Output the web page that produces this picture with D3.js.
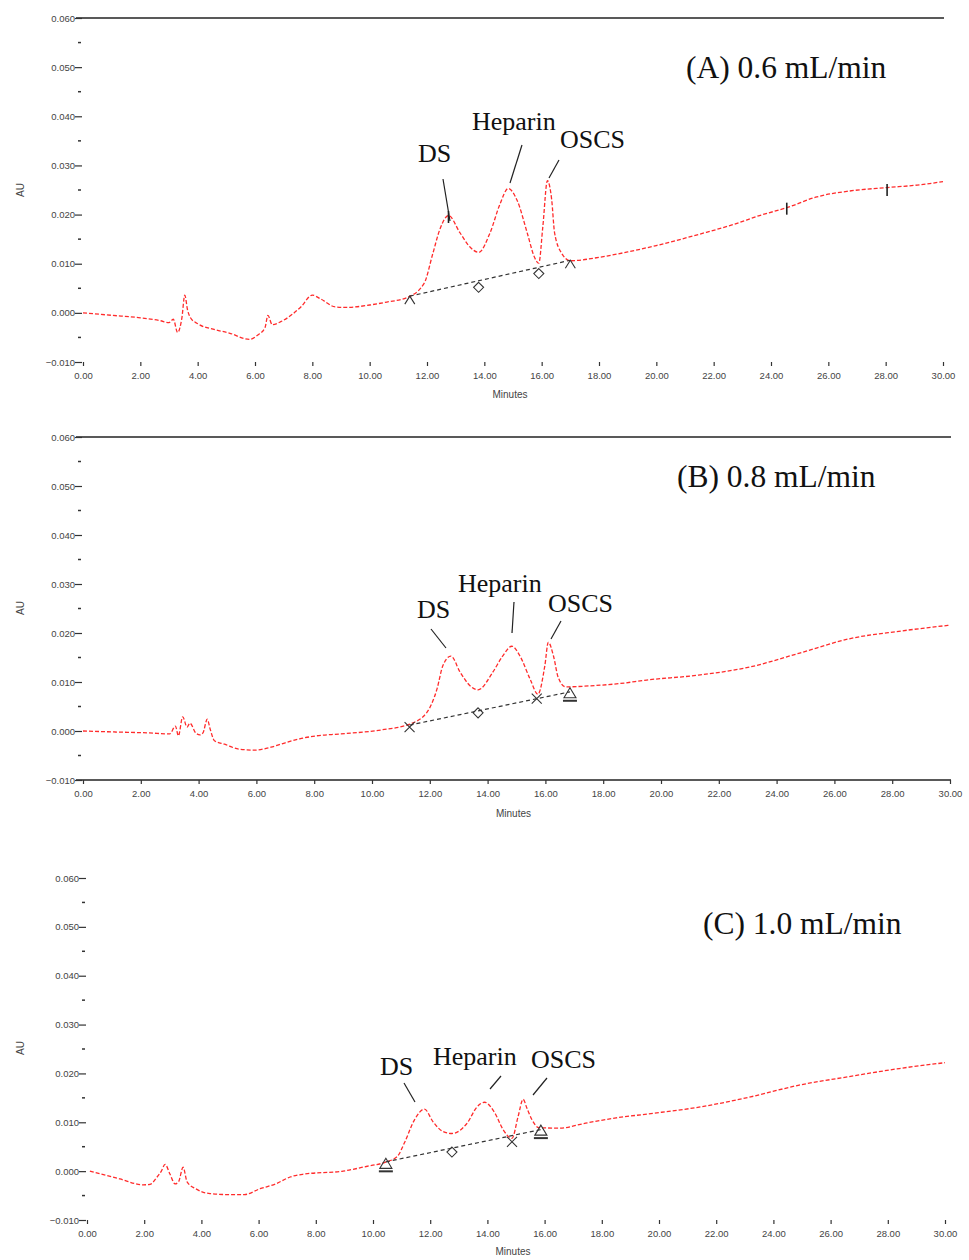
<!DOCTYPE html>
<html>
<head>
<meta charset="utf-8">
<script src="https://cdn.jsdelivr.net/npm/d3@7"></script>
<style>
  html, body { margin: 0; padding: 0; background: #fff; }
  svg { display: block; }
  .tick-label { font-family: "Liberation Sans", Arial, sans-serif; font-size: 9.5px; fill: #444; }
  .axis-title { font-family: "Liberation Sans", Arial, sans-serif; font-size: 10px; fill: #444; }
  .serif { font-family: "Liberation Serif", "Times New Roman", serif; fill: #111; }
</style>
</head>
<body>
<svg id="chart" width="969" height="1260"></svg>
<script>
// ---- Chromatogram traces (retention time in minutes, absorbance in AU) ----
const timeA = [0, 1.0, 2.0, 2.7, 3.0, 3.15, 3.3, 3.45, 3.55, 3.65, 3.75, 4.0, 4.6, 5.1, 5.8, 6.1, 6.35, 6.45, 6.6, 6.9, 7.3, 7.6, 8.0, 8.3, 8.8, 9.2, 10.0, 10.6, 11.3, 11.9, 12.2, 12.45, 12.75, 13.15, 13.5, 13.8, 14.2, 14.55, 14.83, 15.15, 15.5, 15.75, 15.9, 16.04, 16.2, 16.35, 16.45, 16.7, 17.0, 18.0, 19.0, 20.0, 21.5, 22.7, 23.6, 24.55, 25.6, 26.75, 28.05, 29.1, 30.0];
const auA = [0.0000, -0.0005, -0.0010, -0.0016, -0.0020, -0.0013, -0.0040, -0.0010, 0.0036, 0.0005, -0.0010, -0.0022, -0.0034, -0.0041, -0.0054, -0.0045, -0.0030, -0.0005, -0.0024, -0.0018, -0.0003, 0.0012, 0.0036, 0.0028, 0.0012, 0.0011, 0.0016, 0.0022, 0.0031, 0.0060, 0.0120, 0.0170, 0.0198, 0.0163, 0.0134, 0.0123, 0.0163, 0.0222, 0.0253, 0.0228, 0.0162, 0.0113, 0.0101, 0.0175, 0.0269, 0.0230, 0.0163, 0.0121, 0.0106, 0.0113, 0.0124, 0.0137, 0.0160, 0.0180, 0.0198, 0.0214, 0.0236, 0.0248, 0.0255, 0.0260, 0.0267];

const timeB = [0, 1.1, 2.3, 3.0, 3.2, 3.3, 3.45, 3.6, 3.7, 3.9, 4.05, 4.15, 4.3, 4.4, 4.55, 4.9, 5.4, 5.95, 6.5, 7.0, 7.5, 8.06, 8.9, 10.3, 11.3, 11.9, 12.25, 12.45, 12.73, 13.05, 13.4, 13.67, 14.18, 14.52, 14.84, 15.12, 15.47, 15.74, 15.98, 16.1, 16.28, 16.44, 16.7, 17.5, 18.6, 19.5, 21.3, 23.1, 24.8, 26.5, 28.3, 30.0];
const auB = [0.0000, -0.0002, -0.0004, -0.0006, 0.0010, -0.0010, 0.0029, 0.0008, 0.0016, -0.0004, -0.0008, -0.0004, 0.0024, 0.0004, -0.0020, -0.0027, -0.0037, -0.0039, -0.0033, -0.0024, -0.0016, -0.0010, -0.0006, 0.0002, 0.0014, 0.0038, 0.0086, 0.0133, 0.0153, 0.0120, 0.0092, 0.0084, 0.0120, 0.0153, 0.0173, 0.0153, 0.0106, 0.0075, 0.0133, 0.0181, 0.0153, 0.0110, 0.0090, 0.0092, 0.0097, 0.0104, 0.0114, 0.0131, 0.0159, 0.0188, 0.0204, 0.0216];

const timeC = [0.1, 1.15, 1.96, 2.2, 2.45, 2.6, 2.73, 2.9, 3.08, 3.2, 3.36, 3.5, 3.8, 4.3, 5.0, 5.5, 6.05, 6.6, 7.1, 7.6, 8.95, 9.8, 10.42, 10.85, 11.1, 11.45, 11.8, 12.1, 12.45, 12.76, 13.3, 13.63, 13.9, 14.26, 14.55, 14.86, 15.07, 15.25, 15.38, 15.56, 15.8, 16.5, 17.5, 18.5, 19.6, 21.4, 23.2, 24.9, 26.7, 28.4, 30.0];
const auC = [0.0000, -0.0016, -0.0028, -0.0027, -0.0012, 0.0000, 0.0014, -0.0006, -0.0026, -0.0022, 0.0008, -0.0022, -0.0036, -0.0046, -0.0048, -0.0048, -0.0036, -0.0026, -0.0012, -0.0006, 0.0000, 0.0010, 0.0018, 0.0030, 0.0058, 0.0105, 0.0127, 0.0101, 0.0081, 0.0077, 0.0099, 0.0131, 0.0141, 0.0119, 0.0085, 0.0067, 0.0111, 0.0147, 0.0129, 0.0105, 0.0089, 0.0088, 0.0099, 0.0109, 0.0117, 0.0131, 0.0152, 0.0176, 0.0194, 0.0210, 0.0222];

// ---- Integration baselines and peak-boundary markers ----
const baseTimeA = [11.4, 17.0];
const baseAuA = [0.0034, 0.0107];
const markTimeA = [11.4, 13.8, 15.9, 17.0];
const markAuA = [0.0030, 0.0052, 0.0080, 0.0103];
const markShapeA = ["caret", "diamond", "diamond", "caret"];

const baseTimeB = [11.3, 16.85];
const baseAuB = [0.0012, 0.0080];
const markTimeB = [11.3, 13.67, 15.7, 16.85];
const markAuB = [0.0008, 0.0037, 0.0066, 0.0078];
const markShapeB = ["cross", "diamond", "cross", "triangle"];

const baseTimeC = [10.45, 15.87];
const baseAuC = [0.0019, 0.0085];
const markTimeC = [10.45, 12.76, 14.86, 15.87];
const markAuC = [0.0016, 0.0039, 0.0060, 0.0084];
const markShapeC = ["triangle", "diamond", "cross", "triangle"];

// Event ticks on trace A
const eventTimeA = [12.75, 24.55, 28.05];
const eventAuA = [0.0195, 0.0212, 0.0250];

// ---- Axis ticks ----
const yTickValues = [-0.010, 0.000, 0.010, 0.020, 0.030, 0.040, 0.050, 0.060];
const yMinorValues = [-0.005, 0.005, 0.015, 0.025, 0.035, 0.045, 0.055];
const xTickValues = [0, 2, 4, 6, 8, 10, 12, 14, 16, 18, 20, 22, 24, 26, 28, 30];

// ---- Labels ----
const panelTitles = ["(A) 0.6 mL/min", "(B) 0.8 mL/min", "(C) 1.0 mL/min"];
const peakNames = ["DS", "Heparin", "OSCS"];

const svg = d3.select("#chart");

const layouts = [
  { t: timeA, v: auA, bt: baseTimeA, bv: baseAuA, mt: markTimeA, mv: markAuA, ms: markShapeA,
    x0: 83, x1: 943, yTop: 18, yBot: 362, topLine: true, bottomLine: false,
    title: [686, 78], auLabel: 190, minutesY: 398,
    peaks: [[418, 162], [472, 130], [560, 148]],
    leaders: [[443, 179, 450, 221], [522, 145, 510, 183], [559, 160, 549, 178]] },
  { t: timeB, v: auB, bt: baseTimeB, bv: baseAuB, mt: markTimeB, mv: markAuB, ms: markShapeB,
    x0: 83, x1: 950, yTop: 437, yBot: 780, topLine: true, bottomLine: true,
    title: [677, 487], auLabel: 608, minutesY: 817,
    peaks: [[417, 618], [458, 592], [548, 612]],
    leaders: [[431, 629, 446, 648], [514, 602, 512, 633], [561, 621, 551, 639]] },
  { t: timeC, v: auC, bt: baseTimeC, bv: baseAuC, mt: markTimeC, mv: markAuC, ms: markShapeC,
    x0: 87, x1: 945, yTop: 878, yBot: 1220, topLine: false, bottomLine: false,
    title: [703, 934], auLabel: 1048, minutesY: 1255,
    peaks: [[380, 1075], [433, 1065], [531, 1068]],
    leaders: [[404, 1083, 415, 1102], [501, 1076, 490, 1089], [547, 1078, 533, 1095]] }
];

layouts.forEach((p, i) => {
  const x = d3.scaleLinear().domain([0, 30]).range([p.x0, p.x1]);
  const y = d3.scaleLinear().domain([-0.010, 0.060]).range([p.yBot, p.yTop]);
  const g = svg.append("g");
  const axisX = p.x0 - 1;

  // frame lines
  if (p.topLine) {
    g.append("line").attr("x1", axisX - 6).attr("x2", p.x1 + 1)
      .attr("y1", p.yTop).attr("y2", p.yTop)
      .attr("stroke", "#222").attr("stroke-width", 1.6);
  }
  if (p.bottomLine) {
    g.append("line").attr("x1", axisX - 6).attr("x2", p.x1 + 1)
      .attr("y1", p.yBot).attr("y2", p.yBot)
      .attr("stroke", "#222").attr("stroke-width", 1.4);
  }

  // y axis: major ticks with labels, minor dashes between
  const yAxis = d3.axisLeft(y).tickValues(yTickValues).tickSize(7)
    .tickFormat(d3.format(".3f"));
  const ya = g.append("g").attr("transform", `translate(${axisX},0)`).call(yAxis);
  ya.select(".domain").remove();
  ya.selectAll(".tick line").attr("stroke", "#333").attr("stroke-width", 1.2);
  ya.selectAll(".tick text").attr("class", "tick-label").attr("x", -7)
    .attr("font-family", null).attr("font-size", null);
  g.selectAll(".ymin").data(yMinorValues).enter().append("line")
    .attr("x1", axisX - 4).attr("x2", axisX - 1)
    .attr("y1", d => y(d)).attr("y2", d => y(d))
    .attr("stroke", "#333").attr("stroke-width", 1.5);

  // x axis ticks and labels
  const xAxis = d3.axisBottom(x).tickValues(xTickValues).tickSize(4)
    .tickFormat(d3.format(".2f"));
  const xa = g.append("g").attr("transform", `translate(0,${p.yBot})`).call(xAxis);
  xa.select(".domain").remove();
  xa.selectAll(".tick line").attr("stroke", "#333").attr("stroke-width", 1.2);
  xa.selectAll(".tick text").attr("class", "tick-label").attr("y", 10)
    .attr("font-family", null).attr("font-size", null);

  // axis titles
  g.append("text").attr("class", "axis-title")
    .attr("transform", `translate(24,${p.auLabel}) rotate(-90)`)
    .attr("text-anchor", "middle").text("AU");
  g.append("text").attr("class", "axis-title")
    .attr("x", (p.x0 + p.x1) / 2 - 3).attr("y", p.minutesY)
    .attr("text-anchor", "middle").text("Minutes");

  // chromatogram trace
  const line = d3.line().x(d => x(d[0])).y(d => y(d[1])).curve(d3.curveMonotoneX);
  g.append("path").datum(p.t.map((t, k) => [t, p.v[k]]))
    .attr("d", line).attr("fill", "none")
    .attr("stroke", "#ff2b2b").attr("stroke-width", 1.3)
    .attr("stroke-dasharray", "4,2");

  // integration baseline
  g.append("path").datum(p.bt.map((t, k) => [t, p.bv[k]]))
    .attr("d", d3.line().x(d => x(d[0])).y(d => y(d[1])))
    .attr("fill", "none").attr("stroke", "#333").attr("stroke-width", 1.2)
    .attr("stroke-dasharray", "4,3");

  // peak-boundary markers
  p.mt.forEach((t, k) => {
    const cx = x(t), cy = y(p.mv[k]);
    const s = p.ms[k];
    const m = g.append("g").attr("transform", `translate(${cx},${cy})`)
      .attr("fill", "none").attr("stroke", "#333").attr("stroke-width", 1.1);
    if (s === "caret") {
      m.append("path").attr("d", "M-5,6 L0,-2 L5,6");
    } else if (s === "diamond") {
      m.append("path").attr("d", "M0,-5 L5,0 L0,5 L-5,0 Z");
    } else if (s === "cross") {
      m.append("path").attr("d", "M-5,-5 L5,5 M-5,5 L5,-5");
    } else if (s === "triangle") {
      m.append("path").attr("d", "M-6,5 L0,-5 L6,5 Z");
      m.append("line").attr("x1", -7).attr("x2", 7).attr("y1", 8).attr("y2", 8)
        .attr("stroke-width", 2);
    }
  });

  // panel title
  g.append("text").attr("class", "serif")
    .attr("x", p.title[0]).attr("y", p.title[1])
    .attr("font-size", 31.5).text(panelTitles[i]);

  // peak names with leader lines
  p.peaks.forEach((pos, k) => {
    g.append("text").attr("class", "serif")
      .attr("x", pos[0]).attr("y", pos[1])
      .attr("font-size", 26).text(peakNames[k]);
    const L = p.leaders[k];
    g.append("line").attr("x1", L[0]).attr("y1", L[1]).attr("x2", L[2]).attr("y2", L[3])
      .attr("stroke", "#222").attr("stroke-width", 1.2);
  });

  // event ticks (trace A only)
  if (i === 0) {
    g.selectAll(".evt").data(eventTimeA).enter().append("line")
      .attr("x1", d => x(d)).attr("x2", d => x(d))
      .attr("y1", (d, k) => y(eventAuA[k]) - 6).attr("y2", (d, k) => y(eventAuA[k]) + 6)
      .attr("stroke", "#222").attr("stroke-width", 1.6);
  }
});
</script>
</body>
</html>
